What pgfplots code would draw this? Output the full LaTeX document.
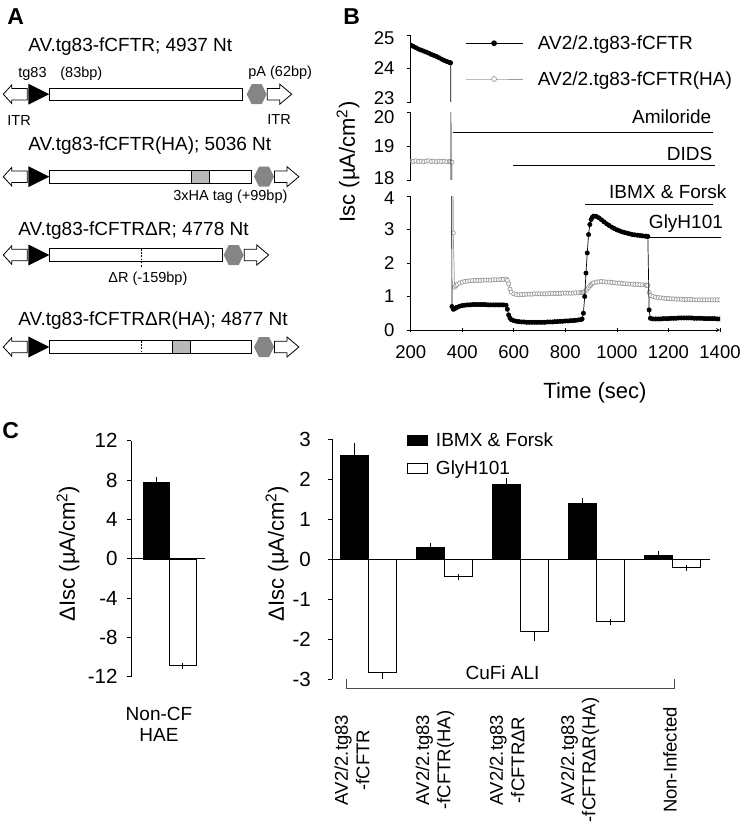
\documentclass[border=0pt]{standalone}
\usepackage{fontspec}
\setmainfont{Liberation Sans}
\usepackage{pgfplots}
\pgfplotsset{compat=1.18}
\usepackage{pgfplotstable}

\definecolor{trgray}{gray}{0.6}
\definecolor{hexgray}{gray}{0.52}

\newcommand\fT{\fontsize{19}{22}\selectfont}
\newcommand\fK{\fontsize{18.5}{21.3}\selectfont}
\newcommand\fC{\fontsize{20.5}{23}\selectfont}
\newcommand\fS{\fontsize{14.5}{17}\selectfont}
\newcommand\fL{\fontsize{22}{25}\selectfont}
\newcommand\fP{\fontsize{23}{26}\selectfont\bfseries}
% shift a tick label up or down without changing its box
\newcommand\sh[2]{\raisebox{#1}[\height][\depth]{#2}}

% Isc trace: time (s), fCFTR (black), fCFTR(HA) (gray)
\pgfplotstableread{
t b g
200 24.70 18.56
210 24.66 18.55
220 24.62 18.57
230 24.58 18.55
240 24.55 18.56
250 24.52 18.54
260 24.49 18.56
270 24.46 18.57
280 24.42 18.55
290 24.39 18.56
300 24.36 18.54
310 24.32 18.56
320 24.28 18.55
330 24.24 18.56
340 24.21 18.54
350 24.18 18.55
355 24.17 18.54
360 0.70 18.53
365 0.62 2.90
370 0.63 1.28
375 0.66 1.32
380 0.68 1.36
390 0.71 1.40
400 0.73 1.43
410 0.74 1.45
420 0.75 1.46
430 0.75 1.47
440 0.76 1.47
450 0.76 1.48
460 0.76 1.48
470 0.76 1.48
480 0.76 1.49
490 0.76 1.49
500 0.75 1.49
510 0.75 1.49
520 0.75 1.50
530 0.75 1.50
540 0.75 1.50
550 0.75 1.51
560 0.75 1.51
570 0.74 1.52
575 0.62 1.48
580 0.45 1.38
585 0.36 1.22
590 0.31 1.13
600 0.28 1.08
610 0.26 1.06
620 0.25 1.05
630 0.24 1.06
640 0.24 1.06
650 0.23 1.07
660 0.23 1.07
670 0.23 1.07
680 0.23 1.08
690 0.23 1.08
700 0.23 1.08
710 0.23 1.08
720 0.23 1.08
730 0.24 1.08
740 0.24 1.09
750 0.24 1.09
760 0.25 1.09
770 0.25 1.09
780 0.26 1.09
790 0.26 1.10
800 0.27 1.10
810 0.27 1.10
820 0.28 1.10
830 0.28 1.10
840 0.29 1.11
850 0.30 1.11
860 0.31 1.12
865 0.33 1.12
870 0.50 1.13
875 1.00 1.15
880 1.70 1.18
885 2.30 1.22
890 2.85 1.27
895 3.15 1.32
900 3.30 1.36
905 3.37 1.39
910 3.40 1.41
920 3.39 1.43
930 3.35 1.44
940 3.29 1.45
950 3.23 1.44
960 3.17 1.43
970 3.12 1.43
980 3.07 1.42
990 3.03 1.41
1000 2.99 1.40
1010 2.96 1.40
1020 2.93 1.39
1030 2.91 1.38
1040 2.89 1.38
1050 2.87 1.37
1060 2.85 1.37
1070 2.84 1.36
1080 2.83 1.36
1090 2.82 1.35
1100 2.81 1.35
1110 2.80 1.34
1115 2.80 1.34
1120 2.79 1.33
1125 0.60 1.12
1130 0.35 1.03
1140 0.33 1.00
1150 0.33 0.98
1160 0.33 0.97
1170 0.33 0.96
1180 0.34 0.95
1190 0.34 0.94
1200 0.34 0.94
1210 0.35 0.93
1220 0.35 0.93
1230 0.35 0.92
1240 0.36 0.92
1250 0.36 0.92
1260 0.36 0.91
1270 0.36 0.91
1280 0.36 0.91
1290 0.36 0.91
1300 0.35 0.90
1310 0.35 0.90
1320 0.35 0.90
1330 0.35 0.90
1340 0.34 0.90
1350 0.34 0.90
1360 0.34 0.90
1370 0.34 0.90
1380 0.34 0.90
1390 0.33 0.90
1400 0.33 0.90
}\isctrace

\tikzset{
  trB/.style={black, line width=0.7pt, mark=*, mark size=2.1pt},
  trH/.style={trgray, line width=0.7pt, mark=*, mark size=2.1pt,
              mark options={fill=white, draw=trgray, line width=0.7pt}},
}

\pgfplotsset{
  segB/.style={
    scale only axis, width=309.3pt, xmin=200, xmax=1400,
    enlargelimits=false,
    axis y line=left,
    axis line style={-, line width=0.8pt},
    tick align=outside, major tick length=4pt,
    tick style={black, line width=0.8pt},
    yticklabel style={font=\fK, anchor=east, inner sep=0pt, xshift=-12pt},
    /pgf/number format/assume math mode=true,
    /pgf/number format/1000 sep={},
    clip marker paths=true,
  },
  barC/.style={
    scale only axis, ybar=0pt, enlargelimits=false,
    axis y line=left, axis x line=middle, xtick=\empty,
    axis line style={-, line width=0.8pt},
    tick align=outside, major tick length=4pt,
    tick style={black, line width=0.8pt},
    yticklabel style={font=\fC, anchor=east, inner sep=0pt},
    /pgf/number format/assume math mode=true,
    error bars/error bar style={black, line width=0.8pt},
    error bars/error mark options={black, line width=0.8pt, mark size=3pt},
  },
}

% one vector map of panel A
\newcommand\itrrow[4]{% #1 centre y, #2 end of box, #3 centre of pA, #4 start of right ITR
  \draw[fill=white] (3.3,#1) -- (11.7,#1-9.2) -- (11.7,#1-5.8) -- (27.3,#1-5.8)
     -- (27.3,#1+5.8) -- (11.7,#1+5.8) -- (11.7,#1+9.2) -- cycle;
  \fill (28.3,#1-10.5) -- (49.3,#1) -- (28.3,#1+10.5) -- cycle;
  \draw[fill=white] (49.3,#1-6.3) rectangle (#2,#1+6.3);
  \fill[hexgray] (#3-10,#1) -- (#3-5,#1-10) -- (#3+5,#1-10) -- (#3+10,#1)
     -- (#3+5,#1+10) -- (#3-5,#1+10) -- cycle;
  \draw[fill=white] (#4,#1-5.8) -- (#4+12.5,#1-5.8) -- (#4+12.5,#1-10) -- (#4+24.4,#1)
     -- (#4+12.5,#1+10) -- (#4+12.5,#1+5.8) -- (#4,#1+5.8) -- cycle;
}

\begin{document}
\begin{tikzpicture}
\useasboundingbox (0pt,0pt) rectangle (744pt,-825pt);

\begin{scope}[x=1pt, y=-1pt, line width=0.8pt]
  % panel letters
  \node[anchor=base west, inner sep=0pt, font=\fP] at (7,24.5) {A};
  \node[anchor=base west, inner sep=0pt, font=\fP] at (343,24.5) {B};
  \node[anchor=base west, inner sep=0pt, font=\fP] at (2,438) {C};

  % ---- panel A ----
  \node[anchor=base west, inner sep=0pt, font=\fT] at (28,51.9) {AV.tg83-fCFTR; 4937 Nt};
  \node[anchor=base west, inner sep=0pt, font=\fS] at (18,77) {tg83};
  \node[anchor=base west, inner sep=0pt, font=\fS] at (60,77) {(83bp)};
  \node[anchor=base west, inner sep=0pt, font=\fS] at (248,76) {pA (62bp)};
  \itrrow{94.2}{242.7}{256.7}{267.3}
  \node[anchor=base west, inner sep=0pt, font=\fS] at (7,125) {ITR};
  \node[anchor=base west, inner sep=0pt, font=\fS] at (267,124) {ITR};

  \node[anchor=base west, inner sep=0pt, font=\fT] at (28,150.3) {AV.tg83-fCFTR(HA); 5036 Nt};
  \itrrow{176.7}{251.7}{264}{274.5}
  \draw[fill=gray!55] (191.7,176.7-6.3) rectangle (209.3,176.7+6.3);
  \node[anchor=base west, inner sep=0pt, font=\fS] at (173,200.6) {3xHA tag (+99bp)};

  \node[anchor=base west, inner sep=0pt, font=\fT] at (18,235.5) {AV.tg83-fCFTRΔR; 4778 Nt};
  \itrrow{255}{222.7}{233.7}{244.3}
  \draw[line width=1.3pt, dash pattern=on 1.6pt off 1.6pt] (141.7,249) -- (141.7,268);
  \node[anchor=base west, inner sep=0pt, font=\fS] at (108,282.3) {ΔR (-159bp)};

  \node[anchor=base west, inner sep=0pt, font=\fT] at (18,325.3) {AV.tg83-fCFTRΔR(HA); 4877 Nt};
  \itrrow{347}{251.7}{264}{274.5}
  \draw[line width=1.3pt, dash pattern=on 1.6pt off 1.6pt] (141.7,341) -- (141.7,353);
  \draw[fill=gray!55] (172,347-6.3) rectangle (190,347+6.3);

  % ---- panel B labels and drug bars ----
  \node[rotate=90, inner sep=0pt, font=\fL] at (348,162) {Isc (µA/cm\textsuperscript{2})};
  \node[inner sep=0pt, font=\fL] at (595,392.5) {Time (sec)};
  \draw[line width=0.6pt] (452.7,132.7) -- (713.3,132.7);
  \node[anchor=base east, inner sep=0pt, font=\fT] at (711.7,123.6) {Amiloride};
  \draw[line width=0.6pt] (513.3,165) -- (715,165);
  \node[anchor=base east, inner sep=0pt, font=\fT] at (712.7,160) {DIDS};
  \draw[line width=0.6pt] (585,204) -- (713,204);
  \node[anchor=base east, inner sep=0pt, font=\fT] at (726.7,198) {IBMX \& Forsk};
  \draw[line width=0.6pt] (648.3,237.3) -- (720.7,237.3);
  \node[anchor=base east, inner sep=0pt, font=\fT] at (723.3,228.6) {GlyH101};

  % ---- panel C labels ----
  \node[rotate=90, inner sep=0pt, font=\fL] at (68,553.5) {ΔIsc (µA/cm\textsuperscript{2})};
  \node[rotate=90, inner sep=0pt, font=\fL] at (277,553.5) {ΔIsc (µA/cm\textsuperscript{2})};
  \node[anchor=base, inner sep=0pt, font=\fT] at (159,720.5) {Non-CF};
  \node[anchor=base, inner sep=0pt, font=\fT] at (159,741) {HAE};
  \draw[line width=0.8pt, black!70] (346.7,679) -- (346.7,688.3) -- (674,688.3) -- (674,679);
  \node[anchor=base, inner sep=0pt, font=\fT] at (502.5,679) {CuFi ALI};
  \foreach \xx/\lab in {352/{AV2/2.tg83\\-fCFTR}, 435/{AV2/2.tg83\\-fCFTR(HA)},
                        507/{AV2/2.tg83\\-fCFTRΔR}, 580/{AV2/2.tg83\\-fCFTRΔR(HA)},
                        670/{Non-Infected}}
    \node[rotate=90, inner sep=0pt, align=center, font=\fK] at (\xx,760) {\lab};
\end{scope}

% ---- panel B: three stacked segments of one trace ----
\begin{axis}[segB, axis x line=none, at={(410.7pt,-102pt)}, anchor=south west, height=67pt,
  ymin=23, ymax=25, ytick={23,24,25},
  yticklabels={\sh{3.5pt}{23}, 24, \sh{-3pt}{25}},
  legend style={at={(axis description cs:0.1756,0.994)}, anchor=north west,
    draw=none, fill=none, inner sep=0pt, row sep=20.5pt, column sep=15pt,
    font=\fT, nodes={inner sep=0pt}},
  legend cell align=left,
  legend image code/.code={\draw[#1, mark size=2.5pt, mark repeat=2, mark phase=2]
    plot coordinates {(0pt,0pt) (28.5pt,0pt) (57pt,0pt)};}]
\addlegendimage{trB}\addlegendentry{AV2/2.tg83-fCFTR}
\addlegendimage{trH}\addlegendentry{AV2/2.tg83-fCFTR(HA)}
\addplot[trH, forget plot] table[x=t, y=g] {\isctrace};
\addplot[trB, forget plot] table[x=t, y=b] {\isctrace};
\end{axis}

\begin{axis}[segB, axis x line=none, at={(410.7pt,-180pt)}, anchor=south west, height=67.3pt,
  ymin=18, ymax=20, ytick={18,19,20},
  yticklabels={\sh{2pt}{18}, 19, \sh{-4pt}{20}}]
\addplot[trH] table[x=t, y=g] {\isctrace};
\addplot[trB] table[x=t, y=b] {\isctrace};
\end{axis}

\begin{axis}[segB, axis x line=bottom, at={(410.7pt,-330pt)}, anchor=south west, height=134pt,
  ymin=0, ymax=4, ytick={0,1,2,3,4},
  yticklabels={0, 1, 2, 3, \sh{-2pt}{4}},
  xtick={200,400,600,800,1000,1200,1400},
  xticklabel style={font=\fK, anchor=north, inner sep=0pt, yshift=-13pt}]
\addplot[trH] table[x=t, y=g] {\isctrace};
\addplot[trB] table[x=t, y=b] {\isctrace};
\end{axis}

% ---- panel C: non-CF HAE ----
\begin{axis}[barC, at={(131pt,-676.7pt)}, anchor=south west,
  width=74pt, height=236pt, xmin=-38.3, xmax=35.7,
  ymin=-12, ymax=12, ytick={-12,-8,-4,0,4,8,12},
  yticklabel style={xshift=-9.3pt}, bar width=26.6pt]
\addplot[fill=black, draw=black, bar shift=-13.3pt,
  error bars/.cd, y dir=plus, y explicit] coordinates {(0,7.75) +- (0,0.24)};
\addplot[fill=white, draw=black, bar shift=13.3pt,
  error bars/.cd, y dir=minus, y explicit] coordinates {(0,-10.83) +- (0,0.12)};
\end{axis}

% ---- panel C: CuFi ALI ----
\begin{axis}[barC, at={(332pt,-679.3pt)}, anchor=south west,
  width=378pt, height=240.3pt, xmin=-0.4776, xmax=4.496,
  ymin=-3, ymax=3, ytick={-3,-2,-1,0,1,2,3},
  yticklabel style={xshift=-17pt}, bar width=28.3pt,
  legend style={at={(axis description cs:0.1984,1.025)}, anchor=north west,
    draw=none, fill=none, inner sep=0pt, row sep=12pt, column sep=8pt,
    font=\fT, nodes={inner sep=0pt}},
  legend cell align=left,
  legend image code/.code={\draw[#1, line width=0.8pt] (0pt,-5pt) rectangle (20pt,5pt);}]
\addlegendimage{fill=black, draw=black}\addlegendentry{IBMX \& Forsk}
\addlegendimage{fill=white, draw=black}\addlegendentry{GlyH101}
\addplot[forget plot, fill=black, draw=black, bar shift=-14.15pt,
  error bars/.cd, y dir=plus, y explicit] coordinates {
  (0,2.60) +- (0,0.22)
  (1,0.29) +- (0,0.03)
  (2,1.86) +- (0,0.08)
  (3,1.39) +- (0,0.07)
  (4,0.10) +- (0,0.03)
};
\addplot[forget plot, fill=white, draw=black, bar shift=14.15pt,
  error bars/.cd, y dir=minus, y explicit] coordinates {
  (0,-2.83) +- (0,0.09)
  (1,-0.42) +- (0,0.02)
  (2,-1.81) +- (0,0.17)
  (3,-1.56) +- (0,0.02)
  (4,-0.19) +- (0,0.03)
};
\end{axis}
\end{tikzpicture}
\end{document}
